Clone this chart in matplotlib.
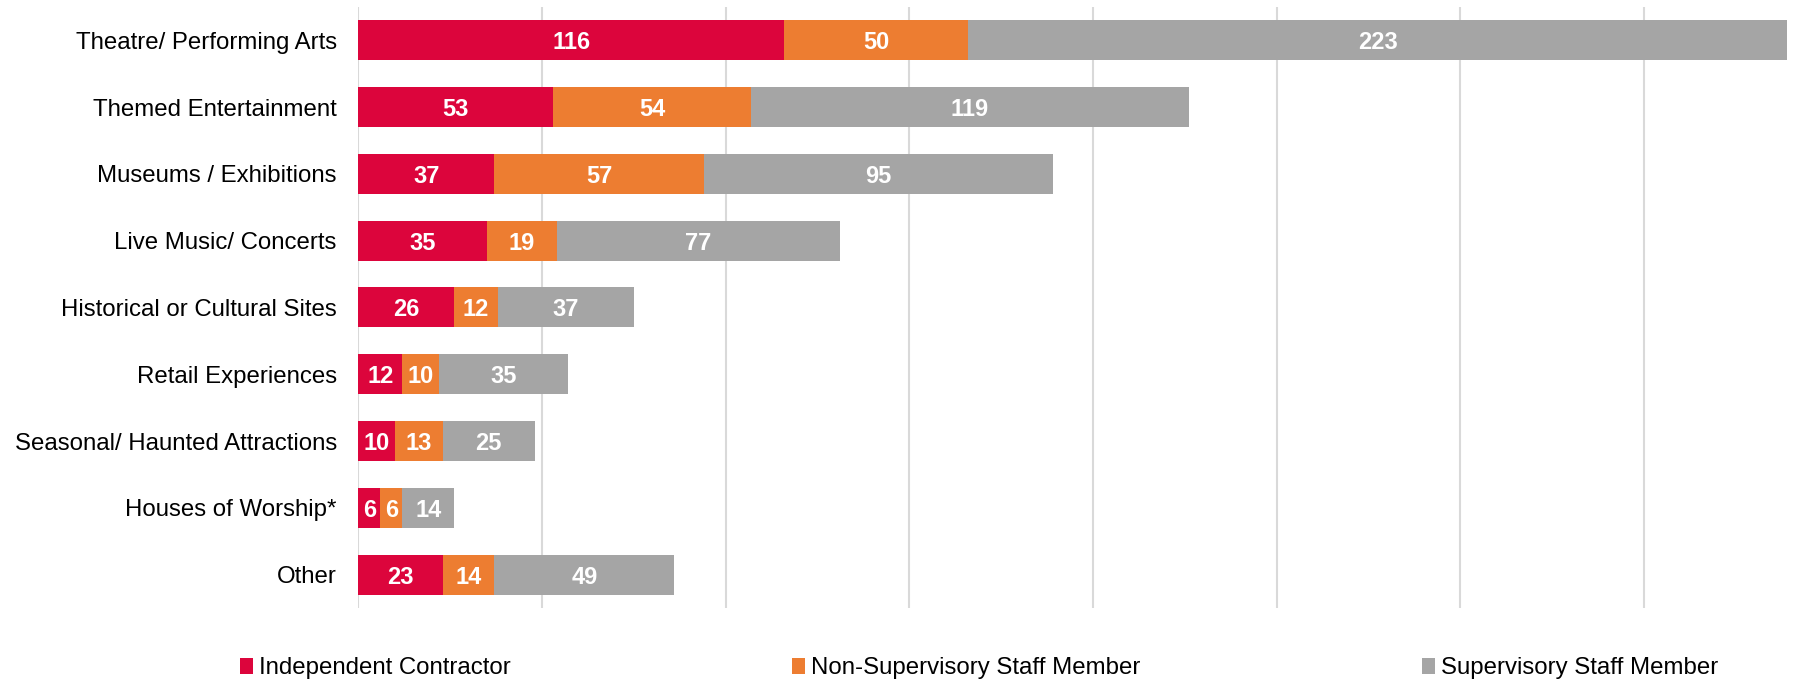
import matplotlib
matplotlib.use("Agg")
import matplotlib.pyplot as plt
import numpy as np

categories = ["Theatre/ Performing Arts", "Themed Entertainment", "Museums / Exhibitions",
              "Live Music/ Concerts", "Historical or Cultural Sites", "Retail Experiences",
              "Seasonal/ Haunted Attractions", "Houses of Worship*", "Other"]
independent = [116, 53, 37, 35, 26, 12, 10, 6, 23]
non_supervisory = [50, 54, 57, 19, 12, 10, 13, 6, 14]
supervisory = [223, 119, 95, 77, 37, 35, 25, 14, 49]
series_names = ["Independent Contractor", "Non-Supervisory Staff Member", "Supervisory Staff Member"]
colors = ["#DC053C", "#ED7D31", "#A5A5A5"]

plt.rcParams['font.family'] = ['Liberation Sans', 'DejaVu Sans']

fig = plt.figure(figsize=(18.1, 6.82), dpi=100)
ax = fig.add_axes([0.198, 0.1085, 0.7915, 0.8815])

y = np.arange(len(categories))
left = np.zeros(len(categories))
for vals, name, col in zip([independent, non_supervisory, supervisory], series_names, colors):
    vals = np.array(vals, dtype=float)
    ax.barh(y, vals, left=left, height=0.6, color=col, label=name, zorder=3)
    for yi, l, v in zip(y, left, vals):
        ax.text(l + v / 2, yi, f"{int(v)}", ha="center", va="center_baseline", color="white",
                fontsize=17, fontweight="bold", zorder=4)
    left += vals

ax.set_xlim(0, 390)
ax.set_ylim(len(categories) - 0.5, -0.5)
ax.set_xticks(np.arange(0, 391, 50))
ax.set_xticklabels([])
ax.tick_params(axis="x", length=0)
ax.tick_params(axis="y", length=0, labelsize=17.3, pad=15.5)
ax.set_yticks(y)
ax.set_yticklabels(categories)
ax.grid(axis="x", color="#D9D9D9", linewidth=1.5, zorder=0)
for s in ax.spines.values():
    s.set_visible(False)

fig.legend(loc="center", bbox_to_anchor=(0.541, 0.02), ncol=3, frameon=False, fontsize=17.3,
           handlelength=0.55, handleheight=0.7, handletextpad=0.25, columnspacing=11.7)

fig.savefig("out.png", dpi=100)
